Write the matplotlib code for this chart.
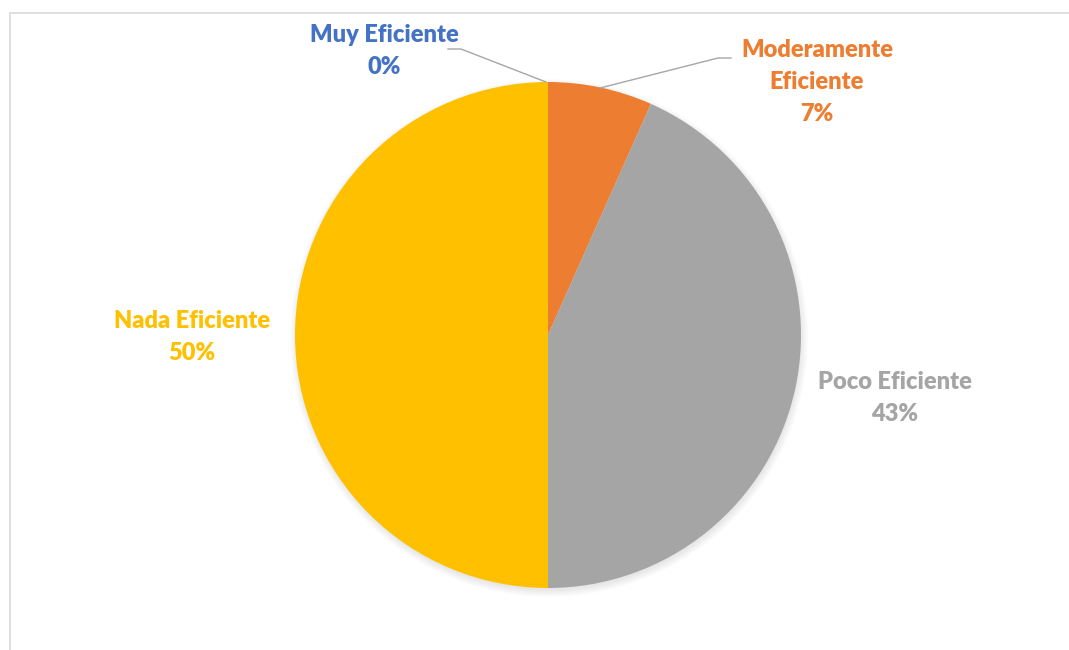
import matplotlib
matplotlib.use("Agg")
import matplotlib.pyplot as plt
from matplotlib.patches import Circle, Rectangle

plt.rcParams['font.family'] = ['Lato', 'DejaVu Sans']

# datos
categorias = ["Muy Eficiente", "Moderamente\nEficiente", "Poco Eficiente", "Nada Eficiente"]
valores = [0, 2, 13, 15]
colores = ["#4472C4", "#ED7D31", "#A5A5A5", "#FFC000"]
etiquetas_pos = [(384, 51), (817, 82), (895, 398), (192, 337)]  # pixel, y desde arriba

W, H = 1069, 650
fig = plt.figure(figsize=(W / 100, H / 100), dpi=100)
ax = fig.add_axes([0, 0, 1, 1])
ax.set_xlim(0, W)
ax.set_ylim(0, H)
ax.set_aspect('equal')
ax.axis('off')

# marco del grafico
ax.add_patch(Rectangle((10, -10), W + 20, H - 13 + 10, fill=False, edgecolor='#D9D9D9', lw=1.2))

cx, cy, r = 548, H - 335, 253

# sombra suave
for i in range(8):
    ax.add_patch(Circle((cx + 1, cy - 3), r + 6 - i, color='black', alpha=0.012, lw=0))

ax.pie(valores, colors=colores, startangle=90, counterclock=False,
       center=(cx, cy), radius=r, wedgeprops=dict(linewidth=0))
ax.set_xlim(0, W)
ax.set_ylim(0, H)
ax.set_aspect('equal')

total = sum(valores)
for nombre, v, c, (x, y) in zip(categorias, valores, colores, etiquetas_pos):
    ax.text(x, H - y, f"{nombre}\n{round(100 * v / total)}%", color=c, ha='center', va='center',
            fontsize=17, fontweight='heavy', linespacing=1.55)

# lineas guia
ax.plot([448, 461, 546], [H - 49, H - 49, H - 82], color='#A6A6A6', lw=1)
ax.plot([600, 718, 731], [H - 88, H - 58, H - 58], color='#A6A6A6', lw=1)

fig.savefig("out.png", dpi=100)
